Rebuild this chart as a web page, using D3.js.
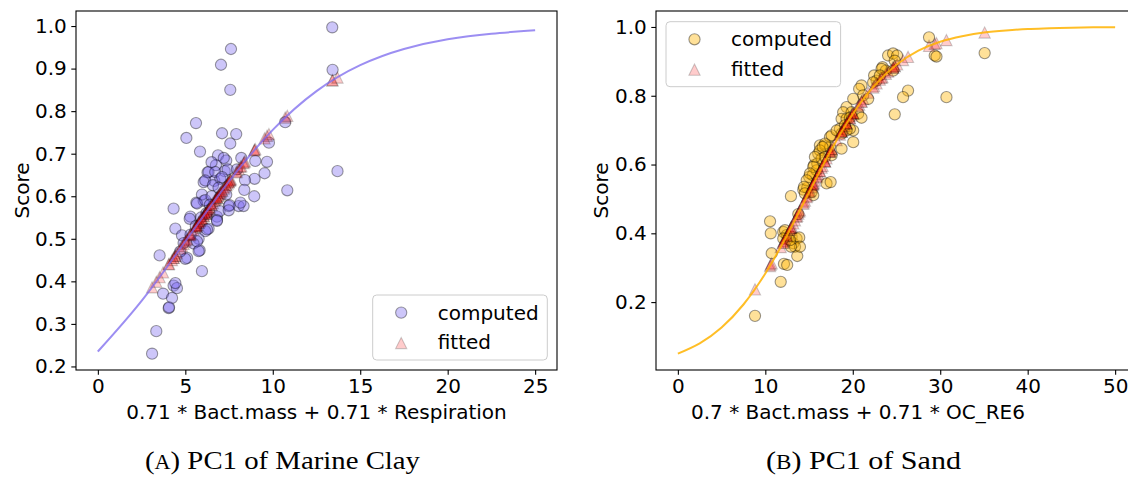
<!DOCTYPE html>
<html><head><meta charset="utf-8">
<script src="https://cdn.jsdelivr.net/npm/d3@7"></script>
<style>body{margin:0;background:#fff} svg{display:block}</style>
</head><body><svg id="c" width="1128" height="477"></svg>
<script>
// ---------- Panel A: Marine Clay ----------
const clayX = [13.40,7.61,7.04,7.57,13.42,13.70,5.61,5.06,7.10,7.91,
  7.57,5.84,6.87,7.34,9.67,10.71,9.78,9.53,10.83,8.96,
  8.41,8.94,8.37,6.27,6.05,6.75,7.25,6.66,4.33,5.63,
  6.05,7.48,8.05,8.33,9.00,6.33,6.71,6.14,7.00,7.42,
  7.95,6.58,7.34,5.95,5.67,6.14,7.53,5.29,6.81,6.96,
  7.48,5.25,6.81,6.33,4.43,4.81,6.14,5.76,5.47,5.82,
  5.10,5.00,3.53,5.95,4.33,4.52,3.73,4.24,4.05,4.07,
  3.34,3.10,4.43,5.76,5.67,6.24,6.81,8.15,6.20,6.50,
  6.90,7.10,6.40,5.90,5.60,5.30,4.90,4.70,7.20,6.50,8.20];
const clayComputed = [0.997,0.946,0.909,0.850,0.897,0.659,0.772,0.737,0.748,0.746,
  0.724,0.705,0.696,0.684,0.681,0.774,0.726,0.654,0.614,0.641,
  0.638,0.600,0.615,0.656,0.633,0.673,0.659,0.636,0.571,0.585,
  0.589,0.577,0.577,0.577,0.683,0.657,0.657,0.637,0.641,0.663,
  0.663,0.626,0.604,0.604,0.583,0.591,0.579,0.552,0.552,0.565,
  0.567,0.547,0.544,0.524,0.524,0.508,0.518,0.500,0.489,0.473,
  0.455,0.453,0.461,0.424,0.390,0.384,0.371,0.361,0.337,0.339,
  0.283,0.230,0.396,0.471,0.494,0.522,0.542,0.585,0.560,0.600,
  0.620,0.645,0.580,0.550,0.530,0.510,0.490,0.470,0.690,0.680,0.690];
const clayFitted = [0.872,0.640,0.610,0.638,0.873,0.879,0.529,0.497,0.613,0.656,
  0.638,0.542,0.601,0.626,0.742,0.785,0.746,0.736,0.789,0.709,
  0.682,0.708,0.680,0.567,0.554,0.594,0.621,0.589,0.455,0.530,
  0.554,0.633,0.664,0.678,0.711,0.570,0.592,0.559,0.608,0.630,
  0.658,0.584,0.626,0.548,0.532,0.559,0.636,0.510,0.597,0.606,
  0.633,0.508,0.597,0.570,0.460,0.483,0.559,0.538,0.521,0.541,
  0.499,0.494,0.410,0.548,0.455,0.466,0.421,0.450,0.440,0.441,
  0.399,0.386,0.460,0.538,0.532,0.565,0.597,0.669,0.563,0.580,
  0.602,0.613,0.574,0.546,0.528,0.511,0.488,0.477,0.618,0.580,0.671];
const clayCurveX = [0,2.5,5,7.5,10,12.5,15,17.5,20,22.5,25];
const clayCurveY = [0.235,0.354,0.494,0.635,0.756,0.847,0.908,0.946,0.969,0.982,0.990];
const clayXTicks = [0,5,10,15,20,25];
const clayYTicks = [0.2,0.3,0.4,0.5,0.6,0.7,0.8,0.9,1.0];

// ---------- Panel B: Sand ----------
const sandX = [8.82,10.54,10.62,10.73,11.76,12.13,12.50,12.05,12.44,13.01,
  13.20,13.58,13.88,13.39,13.65,13.96,12.25,12.05,12.93,12.82,
  12.93,13.77,14.34,14.79,15.02,15.41,15.56,15.94,15.87,15.30,
  15.48,17.00,17.47,16.05,16.24,16.82,17.39,17.58,18.72,20.05,
  28.72,29.37,26.32,25.75,24.80,24.04,24.61,25.07,24.80,23.40,
  23.78,22.44,22.72,21.00,20.73,21.19,21.76,19.29,18.90,18.72,
  19.29,19.86,20.62,21.00,20.05,19.67,18.53,17.39,16.82,16.24,
  16.44,35.08,29.57,30.71,23.29,24.61,23.10,22.33,20.05,19.67,
  19.10,19.29,18.72,17.58,18.15,16.55,16.82,15.67,15.48,15.10,14.73,14.42,14.53];
const sandComputed = [0.160,0.435,0.400,0.342,0.259,0.311,0.308,0.404,0.395,0.390,
  0.371,0.385,0.388,0.361,0.334,0.361,0.409,0.385,0.361,0.380,
  0.508,0.456,0.527,0.532,0.564,0.569,0.598,0.603,0.583,0.520,
  0.511,0.545,0.549,0.632,0.656,0.656,0.651,0.627,0.646,0.665,
  0.970,0.917,0.815,0.796,0.746,0.917,0.923,0.917,0.902,0.883,
  0.873,0.859,0.844,0.830,0.820,0.801,0.791,0.767,0.752,0.733,
  0.733,0.752,0.748,0.736,0.699,0.704,0.704,0.680,0.661,0.641,
  0.617,0.924,0.914,0.796,0.878,0.873,0.859,0.839,0.791,0.736,
  0.714,0.699,0.690,0.685,0.699,0.651,0.622,0.622,0.593,0.574,0.554,0.535,0.516];
const sandFitted = [0.237,0.305,0.309,0.313,0.360,0.378,0.395,0.373,0.392,0.420,
  0.429,0.448,0.463,0.438,0.451,0.467,0.383,0.373,0.416,0.410,
  0.416,0.457,0.486,0.508,0.520,0.540,0.547,0.566,0.563,0.534,
  0.543,0.618,0.640,0.572,0.581,0.609,0.637,0.645,0.696,0.749,
  0.945,0.951,0.913,0.904,0.886,0.870,0.882,0.891,0.886,0.854,
  0.864,0.828,0.836,0.783,0.774,0.790,0.809,0.720,0.703,0.696,
  0.720,0.742,0.770,0.783,0.749,0.735,0.687,0.637,0.609,0.581,
  0.591,0.984,0.953,0.962,0.852,0.882,0.847,0.824,0.749,0.735,
  0.712,0.720,0.696,0.645,0.671,0.596,0.609,0.553,0.543,0.524,0.505,0.490,0.495];
const sandCurveX = [0,2.5,5,7.5,10,12.5,15,17.5,20,22.5,25,27.5,30,32.5,35,37.5,40,42.5,45,47.5,50];
const sandCurveY = [0.050,0.080,0.126,0.193,0.283,0.395,0.519,0.641,0.747,0.830,0.890,0.931,0.957,0.973,0.984,0.990,0.994,0.996,0.998,0.999,0.999];
const sandXTicks = [0,10,20,30,40,50];
const sandYTicks = [0.2,0.4,0.6,0.8,1.0];

const legendLabels = ["computed","fitted"];
const yLabel = "Score";

// ---------- drawing ----------
const svg = d3.select("#c");
const FONT = "DejaVu Sans";
const W = 481, H = 359, TOP = 11;
const MS = 11.2; // marker size px

function padExt(vals){ const [a,b]=d3.extent(vals); const p=(b-a)*0.05; return [a-p,b+p]; }
function triPath(s){ const h=s/2; return `M0,${-h}L${h},${h}L${-h},${h}Z`; }

function panel(cfg){
  const g = svg.append("g");
  const x = d3.scaleLinear().domain(padExt(cfg.curveX.concat(cfg.xs))).range([cfg.left, cfg.left+W]);
  const y = d3.scaleLinear().domain(padExt(cfg.curveY.concat(cfg.computed, cfg.fitted))).range([TOP+H, TOP]);

  // computed circles
  g.append("g").selectAll("circle").data(cfg.xs).join("circle")
    .attr("cx",(d)=>x(d)).attr("cy",(d,i)=>y(cfg.computed[i])).attr("r",MS/2)
    .attr("fill",cfg.color).attr("fill-opacity",cfg.alpha)
    .attr("stroke","#000").attr("stroke-opacity",cfg.alpha).attr("stroke-width",1.1);
  // fitted triangles
  g.append("g").selectAll("path").data(cfg.xs).join("path")
    .attr("d",triPath(MS))
    .attr("transform",(d,i)=>`translate(${x(d)},${y(cfg.fitted[i])})`)
    .attr("fill","red").attr("fill-opacity",0.2)
    .attr("stroke","#000").attr("stroke-opacity",0.2).attr("stroke-width",1.1);
  // fitted curve
  const line = d3.line().x((d)=>x(d)).y((d,i)=>y(cfg.curveY[i])).curve(d3.curveNatural);
  g.append("path").datum(cfg.curveX).attr("d",line)
    .attr("fill","none").attr("stroke",cfg.lineColor).attr("stroke-opacity",cfg.lineAlpha).attr("stroke-width",2);

  // axes
  const xa = g.append("g").attr("transform",`translate(0,${TOP+H})`)
    .call(d3.axisBottom(x).tickValues(cfg.xTicks).tickSize(4.7).tickPadding(4.5).tickFormat(d3.format("d")));
  const ya = g.append("g").attr("transform",`translate(${cfg.left},0)`)
    .call(d3.axisLeft(y).tickValues(cfg.yTicks).tickSize(4.7).tickPadding(4.5).tickFormat(d3.format(".1f")));
  [xa,ya].forEach(a=>{
    a.select(".domain").remove();
    a.selectAll("line").attr("stroke","#000").attr("stroke-width",1.1);
    a.selectAll("text").attr("font-family",FONT).attr("font-size",20).attr("fill","#000");
  });
  // frame
  g.append("rect").attr("x",cfg.left).attr("y",TOP).attr("width",W).attr("height",H)
    .attr("fill","none").attr("stroke","#000").attr("stroke-width",1.1);

  // labels
  g.append("text").attr("x",cfg.xLabelX).attr("y",419).attr("text-anchor","middle")
    .attr("font-family",FONT).attr("font-size",20).text(cfg.xLabel);
  g.append("text").attr("transform",`translate(${cfg.yLabelX},${TOP+H/2}) rotate(-90)`)
    .attr("text-anchor","middle").attr("font-family",FONT).attr("font-size",20).text(yLabel);

  // legend
  const L = g.append("g").attr("transform",`translate(${cfg.legX},${cfg.legY})`);
  L.append("rect").attr("width",174.6).attr("height",65).attr("rx",4)
    .attr("fill","#fff").attr("fill-opacity",0.8).attr("stroke","#cccccc").attr("stroke-width",1);
  L.append("circle").attr("cx",28.5).attr("cy",17.6).attr("r",MS/2)
    .attr("fill",cfg.color).attr("fill-opacity",cfg.alpha)
    .attr("stroke","#000").attr("stroke-opacity",cfg.alpha).attr("stroke-width",1.1);
  L.append("path").attr("d",triPath(MS)).attr("transform","translate(28.5,48)")
    .attr("fill","red").attr("fill-opacity",0.2).attr("stroke","#000").attr("stroke-opacity",0.2).attr("stroke-width",1.1);
  L.selectAll("text.lg").data(legendLabels).join("text").attr("class","lg")
    .attr("x",65).attr("y",(d,i)=>24.5+i*29.5).attr("font-family",FONT).attr("font-size",20).text(d=>d);

  // caption
  const cap = g.append("text").attr("x",cfg.capX).attr("y",469).attr("font-family","Liberation Serif")
    .attr("font-size",26).attr("textLength",cfg.capW).attr("lengthAdjust","spacingAndGlyphs");
  cap.append("tspan").text("(");
  cap.append("tspan").attr("font-size",20).text(cfg.capLetter);
  cap.append("tspan").text(") " + cfg.caption);
}

panel({left:76, xs:clayX, computed:clayComputed, fitted:clayFitted, curveX:clayCurveX, curveY:clayCurveY,
  xTicks:clayXTicks, yTicks:clayYTicks, color:"#7B68EE", alpha:0.38, lineColor:"#7B68EE", lineAlpha:0.75,
  xLabel:"0.71 * Bact.mass + 0.71 * Respiration", xLabelX:316.5, yLabelX:29,
  legX:372.7, legY:295, capX:145, capW:275, capLetter:"A", caption:"PC1 of Marine Clay"});

panel({left:656, xs:sandX, computed:sandComputed, fitted:sandFitted, curveX:sandCurveX, curveY:sandCurveY,
  xTicks:sandXTicks, yTicks:sandYTicks, color:"#FFB300", alpha:0.4, lineColor:"#FFB300", lineAlpha:0.85,
  xLabel:"0.7 * Bact.mass + 0.71 * OC_RE6", xLabelX:858, yLabelX:608,
  legX:666, legY:21.7, capX:766, capW:195, capLetter:"B", caption:"PC1 of Sand"});
</script>
</body></html>
